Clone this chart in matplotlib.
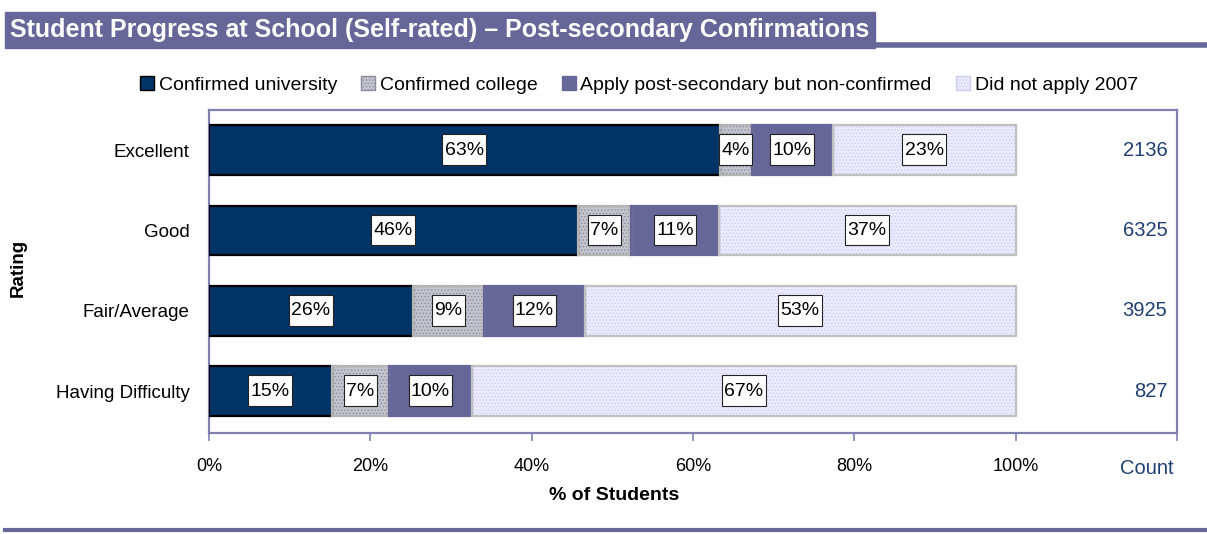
import numpy as np
import matplotlib.pyplot as plt
from matplotlib.patches import Rectangle, Patch
from matplotlib.lines import Line2D
from matplotlib.path import Path

plt.rcParams['font.family'] = ['Liberation Sans', 'DejaVu Sans']
plt.rcParams['hatch.linewidth'] = 0.6

TITLE = 'Student Progress at School (Self-rated) \u2013 Post-secondary Confirmations'
RATINGS = ['Excellent', 'Good', 'Fair/Average', 'Having Difficulty']
SERIES = ['Confirmed university', 'Confirmed college',
          'Apply post-secondary but non-confirmed', 'Did not apply 2007']

# % of students per rating (bar lengths)
univ = [63.3, 45.7, 25.3, 15.2]
college = [4.0, 6.6, 8.8, 7.1]
applied = [10.0, 10.9, 12.5, 10.3]
not_applied = [22.7, 36.8, 53.4, 67.4]
# printed labels
univ_lbl = ['63%', '46%', '26%', '15%']
college_lbl = ['4%', '7%', '9%', '7%']
applied_lbl = ['10%', '11%', '12%', '10%']
not_applied_lbl = ['23%', '37%', '53%', '67%']
counts = [2136, 6325, 3925, 827]

PURPLE = '#666699'
FRAME = '#8080b3'
COUNT_CLR = '#1f3f73'


def label_box(x0, y0, width, height, mutation_size):
    # taller than wide padding, like the excel data labels
    px = 0.12 * mutation_size
    below, above = 0.32 * mutation_size, 0.38 * mutation_size
    x1, y1 = x0 + width + px, y0 + height + above
    x0, y0 = x0 - px, y0 - below
    return Path([(x0, y0), (x1, y0), (x1, y1), (x0, y1), (x0, y0)],
                closed=True)


W, H = 1207, 534
fig = plt.figure(figsize=(W / 100, H / 100), dpi=100)
ax = fig.add_axes([209 / W, 1 - 433 / H, (1177 - 209) / W, (433 - 110) / H])

y = np.arange(len(RATINGS))
bh = 0.62
styles = [
    dict(face='#003366', hatch=None, hcol='#003366', edge='black'),
    dict(face='#c4c4cc', hatch='.....', hcol='#8c8ca0', edge='#b4b4b4'),
    dict(face=PURPLE, hatch=None, hcol=PURPLE, edge=PURPLE),
    dict(face='#ebebff', hatch='.....', hcol='#ccccee', edge='#c0c0c0'),
]
data = [univ, college, applied, not_applied]
labels = [univ_lbl, college_lbl, applied_lbl, not_applied_lbl]

left = np.zeros(len(RATINGS))
for vals, lbls, st in zip(data, labels, styles):
    vals = np.array(vals)
    ax.barh(y, vals, left=left, height=bh, color=st['face'],
            hatch=st['hatch'], edgecolor=st['hcol'], linewidth=0, zorder=2)
    ax.barh(y, vals, left=left, height=bh, fill=False,
            edgecolor=st['edge'], linewidth=1.6, zorder=3)
    for yi, l, v, t in zip(y, left, vals, lbls):
        ax.text(l + v / 2, yi, t, ha='center', va='center',
                fontsize=14, zorder=5,
                bbox=dict(boxstyle=label_box, fc='white',
                          ec='#222222', lw=0.8))
    left = left + vals

for yi, c in zip(y, counts):
    ax.text(118.8, yi, str(c), ha='right', va='center', fontsize=14.5,
            color=COUNT_CLR)

ax.set_xlim(0, 120)
ax.set_ylim(3.52, -0.5)
ax.set_xticks([0, 20, 40, 60, 80, 100, 120])
ax.set_xticklabels(['0%', '20%', '40%', '60%', '80%', '100%', ''])
ax.set_yticks(y)
ax.set_yticklabels(RATINGS)
ax.tick_params(axis='x', direction='out', length=6, color=FRAME, width=1.2,
               labelsize=13, pad=12)
ax.tick_params(axis='y', length=0, labelsize=13.5, pad=14)
for s in ax.spines.values():
    s.set_color(FRAME)
    s.set_linewidth(1.6)

ax.text(119.6, -0.08, 'Count', transform=ax.get_xaxis_transform(),
        ha='right', va='top', fontsize=14.5, color=COUNT_CLR)

fig.text(614 / W, 1 - 495 / H, '% of Students', ha='center', va='center',
         fontsize=14, fontweight='bold')
fig.text(18 / W, 1 - 268 / H, 'Rating', ha='center', va='center',
         rotation=90, fontsize=13.5, fontweight='bold')

# title banner and rules
fig.patches.append(Rectangle((5 / W, 1 - 48 / H), 870 / W, 36 / H,
                             transform=fig.transFigure, color=PURPLE,
                             zorder=0))
fig.text(10 / W, 1 - 30 / H, TITLE, ha='left', va='center', color='white',
         fontsize=18, fontweight='bold')
fig.add_artist(Line2D([875 / W, 1.0], [1 - 45 / H, 1 - 45 / H],
                      transform=fig.transFigure, color=PURPLE, lw=4))
fig.add_artist(Line2D([5 / W, 1.0], [1 - 530 / H, 1 - 530 / H],
                      transform=fig.transFigure, color=PURPLE, lw=3))

handles = []
for st in styles:
    handles.append(Patch(facecolor=st['face'], hatch=st['hatch'],
                         edgecolor=st['hcol'] if st['hatch'] else st['edge'],
                         linewidth=1))
fig.legend(handles, SERIES, loc='center', bbox_to_anchor=(639 / W, 1 - 85 / H),
           ncol=4, frameon=False, fontsize=14, handlelength=0.7,
           handleheight=0.7, handletextpad=0.25, columnspacing=1.25)

fig.savefig('out.png', dpi=100)
